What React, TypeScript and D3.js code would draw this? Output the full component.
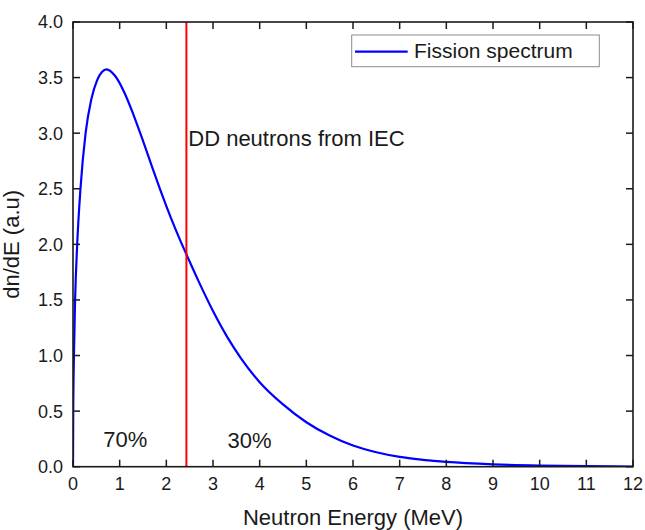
import React from "react";
import * as d3 from "d3";

// Fission spectrum (MeV, a.u.)
const energy = [0, 0.005, 0.02, 0.045, 0.09, 0.16, 0.27, 0.39, 0.52, 0.62, 0.72, 0.9, 1.1, 1.3, 1.5, 1.7, 1.9, 2.1, 2.3, 2.42, 2.7, 3.0, 3.3, 3.6, 4.0, 4.5, 5.0, 5.5, 6.0, 6.5, 7.0, 7.5, 8.0, 9.0, 10.0, 11.0, 12.0];
const dndE = [0, 0.5, 1.0, 1.5, 2.0, 2.5, 3.0, 3.3, 3.48, 3.55, 3.574, 3.516, 3.366, 3.161, 2.931, 2.691, 2.456, 2.236, 2.034, 1.92, 1.66, 1.4, 1.17, 0.975, 0.76, 0.56, 0.4, 0.28, 0.19, 0.13, 0.088, 0.062, 0.043, 0.021, 0.01, 0.0045, 0.002];

const xTicks = [0, 1, 2, 3, 4, 5, 6, 7, 8, 9, 10, 11, 12];
const yTicks = [0, 0.5, 1.0, 1.5, 2.0, 2.5, 3.0, 3.5, 4.0];

const ddEnergy = 2.43;
const seriesName = "Fission spectrum";
const xTitle = "Neutron Energy (MeV)";
const yTitle = "dn/dE (a.u)";
const ddLabel = "DD neutrons from IEC";
const leftShare = "70%";
const rightShare = "30%";

const W = 645;
const H = 530;
const M = { left: 73, right: 633, top: 22, bottom: 466.7 };
const FONT = "'Liberation Sans', Arial, sans-serif";

export default function App() {
  const x = d3.scaleLinear().domain([0, 12]).range([M.left, M.right]);
  const y = d3.scaleLinear().domain([0, 4]).range([M.bottom, M.top]);
  const pts = energy.map((e, i) => [e, dndE[i]] as [number, number]);
  const line = d3
    .line<[number, number]>()
    .x((d) => x(d[0]))
    .y((d) => y(d[1]))
    .curve(d3.curveMonotoneX);
  const tl = 7;
  const axisColor = "#1a1a1a";
  return (
    <svg
      width={W}
      height={H}
      style={{ position: "absolute", left: 0, top: 0, display: "block", background: "#fff" }}
      fontFamily={FONT}
    >
      <rect x={0} y={0} width={W} height={H} fill="#fff" />
      <defs>
        <clipPath id="plot">
          <rect x={M.left} y={M.top} width={M.right - M.left} height={M.bottom - M.top} />
        </clipPath>
      </defs>
      <path d={line(pts) || ""} fill="none" stroke="#0000ff" strokeWidth={2.2} clipPath="url(#plot)" />
      <line x1={x(ddEnergy)} x2={x(ddEnergy)} y1={y(4)} y2={y(0)} stroke="#ff0000" strokeWidth={2} />

      {/* frame */}
      <rect
        x={M.left}
        y={M.top}
        width={M.right - M.left}
        height={M.bottom - M.top}
        fill="none"
        stroke={axisColor}
        strokeWidth={1.6}
      />
      {xTicks.map((t) => (
        <g key={"xt" + t}>
          <line x1={x(t)} x2={x(t)} y1={M.bottom} y2={M.bottom - tl} stroke={axisColor} strokeWidth={1.5} />
          <line x1={x(t)} x2={x(t)} y1={M.top} y2={M.top + tl} stroke={axisColor} strokeWidth={1.5} />
          <text x={x(t)} y={490} fontSize={18} textAnchor="middle" fill="#1a1a1a">
            {t}
          </text>
        </g>
      ))}
      {yTicks.map((t) => (
        <g key={"yt" + t}>
          <line x1={M.left} x2={M.left + tl} y1={y(t)} y2={y(t)} stroke={axisColor} strokeWidth={1.5} />
          <line x1={M.right} x2={M.right - tl} y1={y(t)} y2={y(t)} stroke={axisColor} strokeWidth={1.5} />
          <text x={63} y={y(t)} dy="0.36em" fontSize={18} textAnchor="end" fill="#1a1a1a">
            {t.toFixed(1)}
          </text>
        </g>
      ))}

      <text x={(M.left + M.right) / 2} y={525} fontSize={22} textAnchor="middle" fill="#1a1a1a">
        {xTitle}
      </text>
      <text
        transform={`translate(19, ${(M.top + M.bottom) / 2}) rotate(-90)`}
        fontSize={22}
        textAnchor="middle"
        fill="#1a1a1a"
      >
        {yTitle}
      </text>

      <text x={x(2.47)} y={y(2.887)} fontSize={22} fill="#1a1a1a">
        {ddLabel}
      </text>
      <text x={x(0.65)} y={y(0.18)} fontSize={22} fill="#1a1a1a">
        {leftShare}
      </text>
      <text x={x(3.31)} y={y(0.17)} fontSize={22} fill="#1a1a1a">
        {rightShare}
      </text>

      {/* legend */}
      <rect x={351.7} y={35} width={247.6} height={31.7} fill="#fff" stroke="#8c8c8c" strokeWidth={1} />
      <line x1={355} x2={407.7} y1={51.7} y2={51.7} stroke="#0000ff" strokeWidth={2.2} />
      <text x={414} y={57.7} fontSize={21} fill="#1a1a1a">
        {seriesName}
      </text>
    </svg>
  );
}
